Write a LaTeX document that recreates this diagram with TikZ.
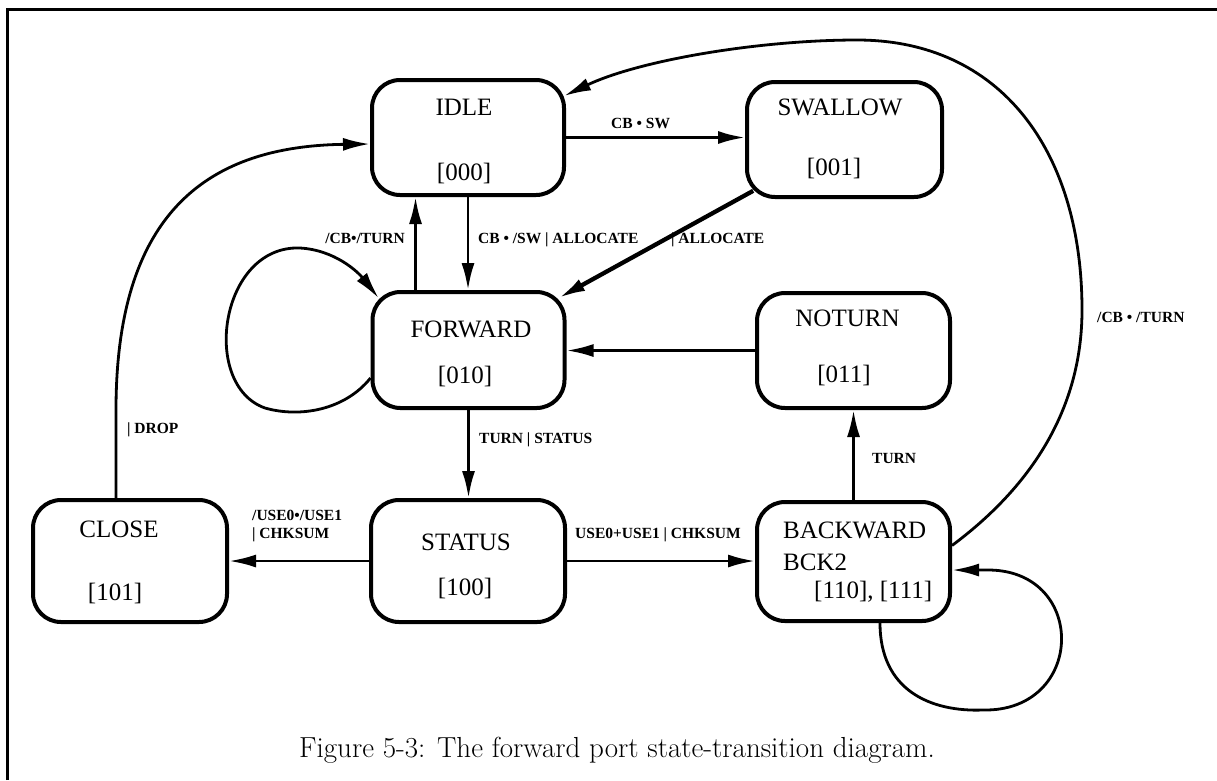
\documentclass[tikz,border=0pt]{standalone}
\usepackage{fontspec}
\setmainfont{Liberation Serif}
\usetikzlibrary{arrows.meta}
\begin{document}
\begin{tikzpicture}[x=1pt,y=-1pt,
  state/.style={draw, line width=4pt, rounded corners=28pt, inner sep=0pt},
  stxt/.style={font=\fontsize{25}{29}\selectfont, inner sep=0pt, anchor=base},
  lbl/.style={font=\bfseries\fontsize{15.5}{18}\selectfont, inner sep=0pt, anchor=base west},
  edge/.style={line width=2.8pt, -{Latex[length=27pt,width=13pt]}},
  frame/.style={line width=3pt}
]
\useasboundingbox (0,0) rectangle (1217,780);
\draw[frame] (7,780) -- (7,9) -- (1217,9);

% states
\node[state, minimum width=192pt, minimum height=115pt] (idle) at (468,137.5) {};
\node[state, minimum width=195pt, minimum height=115pt] (swallow) at (844.5,139.5) {};
\node[state, minimum width=192pt, minimum height=116pt] (fwd) at (468.5,350) {};
\node[state, minimum width=193pt, minimum height=115pt] (noturn) at (853.5,350.5) {};
\node[state, minimum width=194pt, minimum height=122pt] (close) at (130,561) {};
\node[state, minimum width=194pt, minimum height=122pt] (status) at (468,561) {};
\node[state, minimum width=193pt, minimum height=119pt] (back) at (853.5,561.5) {};

% state texts
\node[stxt] (idleT) at (464,115) {IDLE};
\node[stxt] (idleC) at (464,180) {[000]};
\node[stxt] (swT) at (840,115) {SWALLOW};
\node[stxt] (swC) at (834,175) {[001]};
\node[stxt] (fwdT) at (471,337) {FORWARD};
\node[stxt] (fwdC) at (465,383) {[010]};
\node[stxt] (ntT) at (847.5,326) {NOTURN};
\node[stxt] (ntC) at (844,382) {[011]};
\node[stxt] (clT) at (119,537) {CLOSE};
\node[stxt] (clC) at (115,600) {[101]};
\node[stxt] (stT) at (466,550) {STATUS};
\node[stxt] (stC) at (465,595) {[100]};
\node[stxt, anchor=base west] (bkT) at (783,538) {BACKWARD};
\node[stxt, anchor=base west] (bkT2) at (783,570) {BCK2};
\node[stxt, anchor=base west] (bkC) at (814,598) {[110], [111]};

% connectors
\draw[edge] (idle.east) -- (idle.east -| swallow.west);
\draw[edge] (idle.south) -- (idle.south |- fwd.north);
\draw[edge] ([xshift=-53pt]fwd.north) -- ([xshift=-53pt]fwd.north |- idle.south);
\draw[edge, line width=4.3pt] ([shift={(8.2,-8.2)}]swallow.south west) -- ([shift={(-8.2,8.2)}]fwd.north east);
\draw[edge] (noturn.west) -- (noturn.west -| fwd.east);
\draw[edge] (fwd.south) -- (fwd.south |- status.north);
\draw[edge] (status.west) -- (status.west -| close.east);
\draw[edge] (status.east) -- (status.east -| back.west);
\draw[edge] (back.north) -- (back.north |- noturn.south);
% forward self-loop
\draw[edge] ([yshift=-28pt]fwd.west) .. controls (345,410) and (300,418) .. (265,408)
  .. controls (200,385) and (220,245) .. (300,248)
  .. controls (335,250) and (358,272) .. ([shift={(8.2,8.2)}]fwd.north west);
% close -> idle
\draw[edge] ([xshift=-14pt]close.north) -- (116,410) .. controls (116,210) and (210,146) .. ([yshift=-6.5pt]idle.west);
% backward -> idle
\draw[edge] ([yshift=16pt]back.east) .. controls (1040,480) and (1082,400) .. (1082,310)
  .. controls (1082,150) and (1000,40) .. (857,40)
  .. controls (760,40) and (640,60) .. ([shift={(-2,18)}]idle.north east);
% backward self-loop
\draw[edge] ([xshift=26.5pt]back.south) .. controls (880,690) and (930,712) .. (983,710)
  .. controls (1085,712) and (1088,572) .. (990,570) -- ([yshift=-8.5pt]back.east);

% labels
\node[lbl] (l1) at (611,128) {CB • SW};
\node[lbl] (l2) at (478,243) {CB • /SW | ALLOCATE};
\node[lbl, anchor=base east] (l3) at (405,243) {/CB•/TURN};
\node[lbl] (l4) at (671,243) {| ALLOCATE};
\node[lbl] (l5) at (479,443) {TURN | STATUS};
\node[lbl] (l6) at (252,520) {/USE0•/USE1};
\node[lbl] (l7) at (252,538) {| CHKSUM};
\node[lbl] (l8) at (575,538) {USE0+USE1 | CHKSUM};
\node[lbl] (l9) at (872,463) {TURN};
\node[lbl] (l10) at (127,433) {| DROP};
\node[lbl] (l11) at (1097,322) {/CB • /TURN};

% caption
\node[font=\fontfamily{lmr}\fontsize{29}{34}\selectfont, inner sep=0pt, anchor=base] (cap) at (617,757) {Figure 5-3: The forward port state-transition diagram.};
\end{tikzpicture}
\end{document}
